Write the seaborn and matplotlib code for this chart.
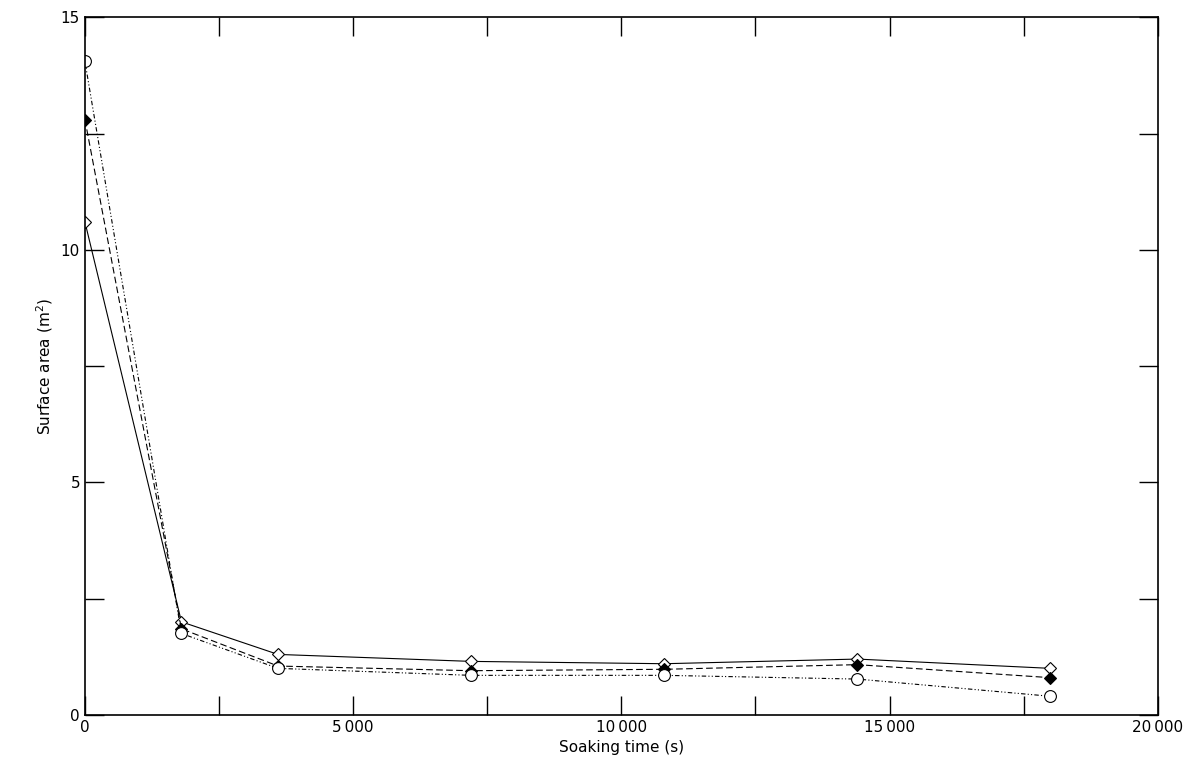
import matplotlib
matplotlib.use("Agg")
import matplotlib.pyplot as plt
import seaborn as sns
import pandas as pd
from matplotlib.ticker import MultipleLocator, FixedLocator, FixedFormatter

sns.set_theme(style="ticks")
plt.rcParams['font.family'] = ['DejaVu Sans']

time_s = [0, 1800, 3600, 7200, 10800, 14400, 18000]
open_diamond = [10.6, 2.0, 1.3, 1.15, 1.1, 1.2, 1.0]
filled_diamond = [12.8, 1.85, 1.05, 0.95, 0.98, 1.08, 0.8]
open_circle = [14.05, 1.75, 1.0, 0.85, 0.85, 0.77, 0.4]
x_ticks = [0, 5000, 10000, 15000, 20000]
x_labels = ["0", "5\u2009000", "10\u2009000", "15\u2009000", "20\u2009000"]
y_ticks = [0, 5, 10, 15]

fig, ax = plt.subplots(figsize=(11.96, 7.83), dpi=100)
fig.subplots_adjust(left=0.071, right=0.968, top=0.978, bottom=0.087)

series = [
    (open_diamond, "-", "D", "white", 6),
    (filled_diamond, (0, (6, 3)), "D", "black", 6),
    (open_circle, (0, (4, 2, 1, 2, 1, 2)), "o", "white", 8.5),
]
for vals, ls, mk, fc, ms in series:
    df = pd.DataFrame({"t": time_s, "a": vals})
    sns.lineplot(data=df, x="t", y="a", ax=ax, color="black", linewidth=0.8,
                 linestyle=ls, marker=mk, markerfacecolor=fc, markeredgecolor="black",
                 markersize=ms, markeredgewidth=0.8)

ax.set_xlim(0, 20000)
ax.set_ylim(0, 15)
ax.xaxis.set_major_locator(FixedLocator(x_ticks))
ax.xaxis.set_major_formatter(FixedFormatter(x_labels))
ax.xaxis.set_minor_locator(MultipleLocator(2500))
ax.yaxis.set_major_locator(FixedLocator(y_ticks))
ax.yaxis.set_minor_locator(MultipleLocator(2.5))
ax.tick_params(which="both", direction="in", top=True, right=True, labelsize=11, colors="black")
ax.tick_params(which="both", length=14, width=1)
for s in ax.spines.values():
    s.set_linewidth(1.2)
    s.set_color("black")
ax.set_xlabel("Soaking time (s)", fontsize=11, color="black")
ax.set_ylabel("Surface area (m$^2$)", fontsize=11, color="black")
fig.savefig("out.png")
